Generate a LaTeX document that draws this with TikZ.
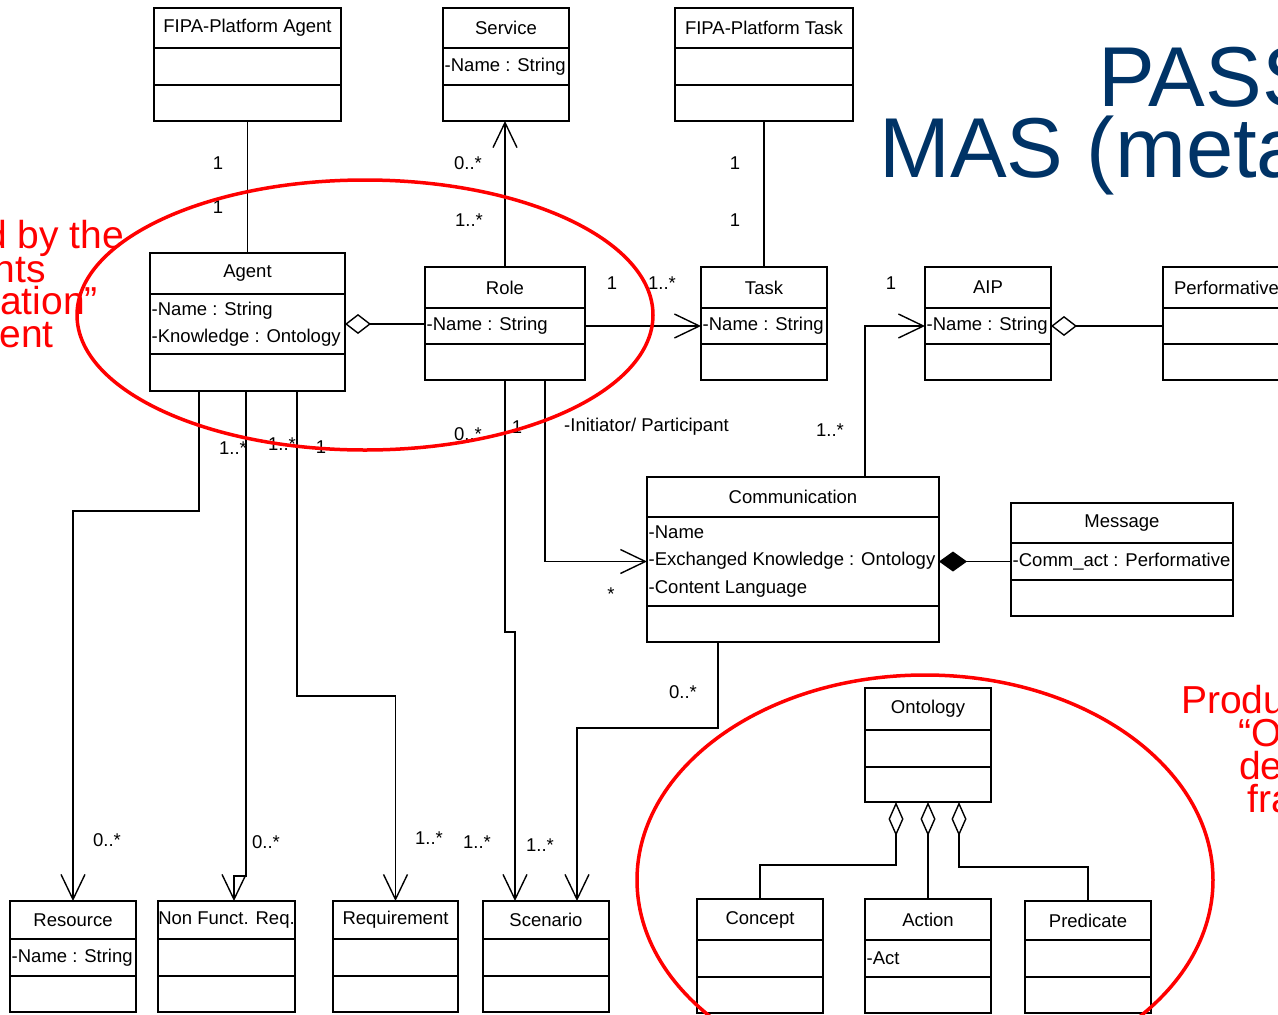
\documentclass[tikz,border=0pt]{standalone}
\usepackage{fontspec}
\setmainfont{Liberation Sans}
\usepackage{xcolor}
\usetikzlibrary{arrows.meta,positioning,calc}
\definecolor{passiblue}{RGB}{0,51,102}
\definecolor{notered}  {RGB}{255,0,0}
\newcommand{\umlfont}{\fontsize{18.5}{27.5}\selectfont}
\newcommand{\notefont}{\fontsize{39}{33}\selectfont}
\newcommand{\titlefont}{\fontsize{85}{70}\selectfont}
\tikzset{
  umlbox/.style  ={draw, line width=1.4pt, inner sep=0pt, outer sep=0pt,
                   font=\umlfont},
  chead/.style   ={umlbox, align=center},
  cattr/.style   ={umlbox},
  cbody/.style   ={umlbox},
  attrtext/.style={font=\umlfont, align=left, inner xsep=1.5pt, inner ysep=0pt},
  assoc/.style   ={line width=1.4pt},
  uarr/.style    ={assoc, -{Straight Barb[length=25pt,width=24pt]}},
  aggr/.style    ={assoc, {Diamond[open,length=26pt,width=20pt]}-},
  oaggr/.style   ={assoc, {Diamond[open,length=34pt,width=15pt]}-},
  comp/.style    ={assoc, {Diamond[length=28pt,width=20pt]}-},
  mult/.style    ={font=\umlfont, inner sep=1pt},
  redring/.style ={draw=notered, line width=3.5pt},
  rednote/.style ={text=notered, font=\notefont, inner sep=0pt},
  bigtitle/.style={text=passiblue, font=\titlefont, inner sep=0pt},
}
% class box: name, x, y, width, head / attribute / body heights, title, attributes
\newcommand{\umlclass}[9]{%
  \node[chead, anchor=north west, minimum width=#4pt, minimum height=#5pt] (#1) at (#2,#3) {#8};
  \node[cattr, anchor=north west, minimum width=#4pt, minimum height=#6pt] (#1-a) at (#1.south west) {};
  \node[cbody, anchor=north west, minimum width=#4pt, minimum height=#7pt] (#1-o) at (#1-a.south west) {};
  \node[attrtext, anchor=west] (#1-t) at (#1-a.west) {#9};
}
\begin{document}
\begin{tikzpicture}[x=1pt,y=-1pt]
  \useasboundingbox (0,0) rectangle (1278,1015);
  \clip (0,0) rectangle (1278,1015);

  \node[bigtitle, anchor=base west] (title-pass) at (1098,106) {PASS};
  \node[bigtitle, anchor=base west] (title-mas)  at (879,177)  {MAS (meta};

  \node[rednote, anchor=base east] (note-l1) at (124,248) {d by the};
  \node[rednote, anchor=base east] (note-l2) at (46,282)  {nts};
  \node[rednote, anchor=base east] (note-l3) at (98,314)  {ation”};
  \node[rednote, anchor=base east] (note-l4) at (54,347)  {ent};
  \node[rednote, anchor=base west] (note-r1) at (1181,713) {Produ};
  \node[rednote, anchor=base west] (note-r2) at (1238,746) {“O};
  \node[rednote, anchor=base west] (note-r3) at (1239,779) {de};
  \node[rednote, anchor=base west] (note-r4) at (1247,812) {fra};

  \umlclass{fipaagent}{154}{8}{187}{40}{37}{36}{FIPA-Platform Agent}{}
  \umlclass{service}{443}{8}{126}{40}{37}{36}{Service}{-Name : String}
  \umlclass{fipatask}{675}{8}{178}{40}{37}{36}{FIPA-Platform Task}{}
  \umlclass{agent}{150}{253}{195}{41}{60}{37}{Agent}{-Name : String\\-Knowledge : Ontology}
  \umlclass{role}{425}{267}{160}{41}{36}{36}{Role}{-Name : String}
  \umlclass{task}{701}{267}{126}{41}{36}{36}{Task}{-Name : String}
  \umlclass{aip}{925}{267}{126}{41}{36}{36}{AIP}{-Name : String}
  \umlclass{performative}{1163}{267}{127}{41}{36}{36}{Performative}{}
  \umlclass{communication}{647}{477}{292}{40}{89}{36}{Communication}{-Name\\-Exchanged Knowledge : Ontology\\-Content Language}
  \umlclass{message}{1011}{503}{222}{40}{37}{36}{Message}{-Comm\_act : Performative}
  \umlclass{ontology}{865}{688}{126}{42}{37}{35}{Ontology}{}
  \umlclass{resource}{10}{901}{126}{38}{37}{36}{Resource}{-Name : String}
  \umlclass{nfr}{158}{901}{137}{38}{37}{36}{Non Funct. Req.}{}
  \umlclass{requirement}{333}{901}{125}{38}{37}{36}{Requirement}{}
  \umlclass{scenario}{483}{901}{126}{38}{37}{36}{Scenario}{}
  \umlclass{concept}{697}{899}{126}{41}{37}{36}{Concept}{}
  \umlclass{action}{865}{899}{126}{41}{37}{36}{Action}{-Act}
  \umlclass{predicate}{1025}{901}{126}{39}{37}{36}{Predicate}{}

  \draw[assoc] (fipaagent-o.south) -- (fipaagent-o.south |- agent.north);
  \draw[uarr]  (role.north) -- (role.north |- service-o.south);
  \draw[assoc] (fipatask-o.south) -- (fipatask-o.south |- task.north);
  \draw[aggr]  (agent-a.east) -- (agent-a.east -| role.west);
  \draw[uarr]  (role-a.east) -- (role-a.east -| task.west);
  \draw[uarr]  (865,0 |- communication.north) |- (aip-a.west);
  \draw[aggr]  (aip-a.east) -- (aip-a.east -| performative.west);
  \draw[comp]  (communication-a.east |- message-a.west) -- (message-a.west);
  \draw[uarr]  (545,0 |- role-o.south) |- (communication-a.west);
  \draw[uarr]  (505,0 |- role-o.south) -- (505,632) -| (515,0 |- scenario.north);
  \draw[uarr]  (718,0 |- communication-o.south) |- (577,728) -- (577,0 |- scenario.north);
  \draw[uarr]  (199,0 |- agent-o.south) -- (199,511) -| (resource.north);
  \draw[uarr]  (246,0 |- agent-o.south) -- (246,876) -| (234,0 |- nfr.north);
  \draw[uarr]  (297,0 |- agent-o.south) -- (297,696) -| (requirement.north);
  \draw[oaggr] (896,0 |- ontology-o.south) -- (896,865) -| (concept.north);
  \draw[oaggr] (ontology-o.south) -- (action.north);
  \draw[oaggr] (959,0 |- ontology-o.south) -- (959,867) -| (predicate.north);

  \node[mult] (m-fa1) at (218,163) {1};
  \node[mult] (m-fa2) at (218,207) {1};
  \node[mult] (m-sv1) at (468,163) {0..*};
  \node[mult] (m-sv2) at (469,220) {1..*};
  \node[mult] (m-ft1) at (735,163) {1};
  \node[mult] (m-ft2) at (735,220) {1};
  \node[mult] (m-rt1) at (612,283) {1};
  \node[mult] (m-rt2) at (662,283) {1..*};
  \node[mult] (m-ai1) at (891,283) {1};
  \node[mult] (m-ai2) at (830,430) {1..*};
  \node[mult] (m-ag1) at (233,448) {1..*};
  \node[mult] (m-ag2) at (282,444) {1..*};
  \node[mult] (m-ag3) at (321,447) {1};
  \node[mult] (m-ro1) at (468,434) {0..*};
  \node[mult] (m-ro2) at (517,427) {1};
  \node[mult, anchor=west] (m-init) at (563,427) {-Initiator/ Participant};
  \node[mult] (m-cm1) at (611,594) {*};
  \node[mult] (m-cm2) at (683,692) {0..*};
  \node[mult] (m-rs) at (107,840) {0..*};
  \node[mult] (m-nf) at (266,842) {0..*};
  \node[mult] (m-rq) at (429,838) {1..*};
  \node[mult] (m-sc1) at (477,842) {1..*};
  \node[mult] (m-sc2) at (540,845) {1..*};

  \draw[redring] (365,315) ellipse [x radius=288pt, y radius=135pt];
  \draw[redring] (925,880) ellipse [x radius=288pt, y radius=205pt];
\end{tikzpicture}
\end{document}
